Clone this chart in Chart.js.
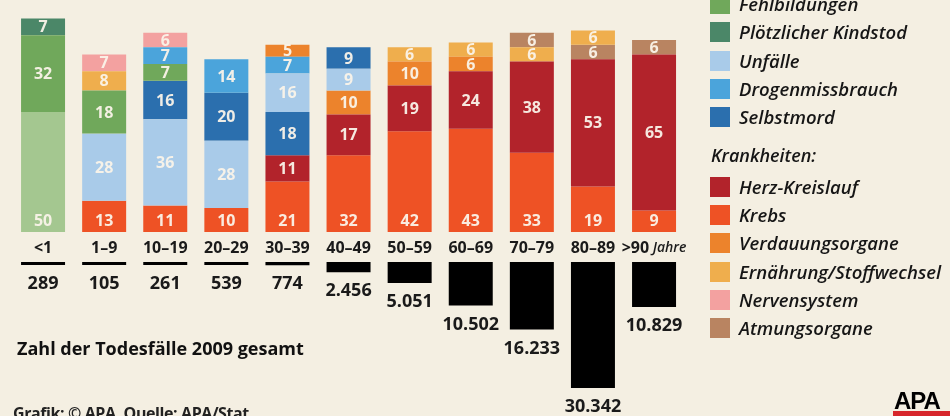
<!DOCTYPE html>
<html><head><meta charset="utf-8">
<script src="https://cdn.jsdelivr.net/npm/chart.js@4.4.0/dist/chart.umd.min.js"></script>
<style>
html,body{margin:0;padding:0;background:#f4efe2;}
#wrap{position:relative;width:950px;height:416px;overflow:hidden;background:#f4efe2;font-family:"Open Sans",sans-serif;color:#1a1a1a;}
#c{position:absolute;left:0;top:0;}
.row{position:absolute;left:710px;height:20px;display:flex;align-items:center;white-space:nowrap;}
.sw{width:20px;height:20px;flex:none;}
.lt{margin-left:9px;font-style:italic;font-weight:600;font-size:18.5px;line-height:20px;color:#161616;}
.hdr{position:absolute;left:711px;font-style:italic;font-weight:600;font-size:18px;line-height:20px;color:#161616;}
#sub{position:absolute;left:17px;top:336px;font-weight:700;font-size:18px;line-height:24px;color:#111;}
#src{position:absolute;left:13px;top:404px;font-weight:700;font-size:16px;line-height:18px;letter-spacing:-0.4px;color:#222;}
#apa{position:absolute;left:894px;top:389px;font-family:"Liberation Sans",Arial,sans-serif;font-weight:700;font-size:24px;line-height:24px;letter-spacing:-1px;color:#000;}
#apabar{position:absolute;left:893px;top:411px;width:57px;height:5px;background:#d7262b;}
</style></head><body>
<div id="wrap">
<canvas id="c" width="950" height="416"></canvas>
<div id="legend"></div>
<div id="sub">Zahl der Todesfälle 2009 gesamt</div>
<div id="src">Grafik: © APA, Quelle: APA/Stat</div>
<div id="apa">APA</div><div id="apabar"></div>
</div>
<script>
// ---- data ----
const categories = ['<1','1–9','10–19','20–29','30–39','40–49','50–59','60–69','70–79','80–89','>90'];
const perinatal     = [50,null,null,null,null,null,null,null,null,null,null];
const fehlbildungen = [32,18,7,null,null,null,null,null,null,null,null];
const kindstod      = [7,null,null,null,null,null,null,null,null,null,null];
const unfaelle      = [null,28,36,28,16,9,null,null,null,null,null];
const drogen        = [null,null,7,14,7,null,null,null,null,null,null];
const selbstmord    = [null,null,16,20,18,9,null,null,null,null,null];
const herz          = [null,null,null,null,11,17,19,24,38,53,65];
const krebs         = [null,13,11,10,21,32,42,43,33,19,9];
const verdauung     = [null,null,null,null,5,10,10,6,null,null,null];
const ernaehrung    = [null,8,null,null,null,null,6,6,6,6,null];
const nerven        = [null,7,6,null,null,null,null,null,null,null,null];
const atmung        = [null,null,null,null,null,null,null,null,6,6,6];
const deaths        = [289,105,261,539,774,2456,5051,10502,16233,30342,10829];

// stacking order (bottom -> top) per age group, as in the graphic
const stackOrder = [
  ['perinatal','fehlbildungen','kindstod'],
  ['krebs','unfaelle','fehlbildungen','ernaehrung','nerven'],
  ['krebs','unfaelle','selbstmord','fehlbildungen','drogen','nerven'],
  ['krebs','unfaelle','selbstmord','drogen'],
  ['krebs','herz','selbstmord','unfaelle','drogen','verdauung'],
  ['krebs','herz','verdauung','unfaelle','selbstmord'],
  ['krebs','herz','verdauung','ernaehrung'],
  ['krebs','herz','verdauung','ernaehrung'],
  ['krebs','herz','ernaehrung','atmung'],
  ['krebs','herz','atmung','ernaehrung'],
  ['krebs','herz','atmung']
];

const series = [
  {key:'perinatal',     label:'Perinatale Ursachen',     data:perinatal,     color:'#a4c790', group:0},
  {key:'fehlbildungen', label:'Fehlbildungen',           data:fehlbildungen, color:'#70a85b', group:1},
  {key:'kindstod',      label:'Plötzlicher Kindstod',    data:kindstod,      color:'#4b8768', group:1},
  {key:'unfaelle',      label:'Unfälle',                 data:unfaelle,      color:'#a9cbe9', group:1},
  {key:'drogen',        label:'Drogenmissbrauch',        data:drogen,        color:'#4ba4db', group:1},
  {key:'selbstmord',    label:'Selbstmord',              data:selbstmord,    color:'#2b6fae', group:1},
  {key:'herz',          label:'Herz-Kreislauf',          data:herz,          color:'#b2232b', group:2},
  {key:'krebs',         label:'Krebs',                   data:krebs,         color:'#ee5225', group:2},
  {key:'verdauung',     label:'Verdauungsorgane',        data:verdauung,     color:'#ec832c', group:2},
  {key:'ernaehrung',    label:'Ernährung/Stoffwechsel',  data:ernaehrung,    color:'#efae4d', group:2},
  {key:'nerven',        label:'Nervensystem',            data:nerven,        color:'#f3a1a0', group:2},
  {key:'atmung',        label:'Atmungsorgane',           data:atmung,        color:'#b98461', group:2}
];

// ---- build floating ranges from values + order ----
const byKey = {}; series.forEach(s => byKey[s.key] = s);
const ranges = {}; series.forEach(s => ranges[s.key] = categories.map(() => null));
stackOrder.forEach((order, i) => {
  let base = 0;
  order.forEach(k => { const v = byKey[k].data[i]; if (v != null) { ranges[k][i] = [base, base + v]; base += v; } });
});

// ---- geometry of the graphic ----
const H = 416, PCT_PX = 2.4, PCT_BASE = 232, DEATH_PX = 0.004153, DEATH_BASE = 262;
const yMin = -(H - PCT_BASE) / PCT_PX, yMax = yMin + H / PCT_PX;
const y2Min = -DEATH_BASE / DEATH_PX, y2Max = y2Min + H / DEATH_PX;

const datasets = series.map(s => ({
  label: s.label, data: ranges[s.key], backgroundColor: s.color, borderWidth: 0,
  yAxisID: 'y', grouped: false, barPercentage: 0.72, categoryPercentage: 1
}));
datasets.push({
  label: 'Zahl der Todesfälle 2009 gesamt', data: deaths, backgroundColor: '#000', borderWidth: 0,
  yAxisID: 'y2', grouped: false, barPercentage: 0.72, categoryPercentage: 1, minBarLength: 3
});
const DEATH_IDX = datasets.length - 1;

const fmt = v => String(v).replace(/\B(?=(\d{3})+(?!\d))/g, '.');

const labelPlugin = {
  id: 'labels',
  afterDatasetsDraw(chart) {
    const ctx = chart.ctx, xs = chart.scales.x, ys = chart.scales.y;
    const zero = ys.getPixelForValue(0);
    ctx.save();
    // segment values
    ctx.font = '700 16px "Open Sans"';
    ctx.fillStyle = 'rgba(250,243,233,0.95)';
    ctx.textAlign = 'center'; ctx.textBaseline = 'middle';
    series.forEach((s, di) => {
      chart.getDatasetMeta(di).data.forEach((bar, j) => {
        const r = chart.data.datasets[di].data[j];
        if (!r) return;
        const v = r[1] - r[0];
        const y = r[0] === 0 ? zero - 12 : (bar.y + bar.base) / 2;
        ctx.fillText(String(v), bar.x, y + 1);
      });
    });
    // category labels
    ctx.fillStyle = '#1a1a1a';
    const cf = '700 16px "Open Sans"', sf = 'italic 600 14px "Open Sans"';
    categories.forEach((c, j) => {
      const x = xs.getPixelForValue(j), y = zero + 16;
      if (j === categories.length - 1) {
        ctx.font = cf; const w1 = ctx.measureText(c).width;
        ctx.font = sf; const suf = ' Jahre', w2 = ctx.measureText(suf).width;
        const start = x - (w1 + w2) / 2;
        ctx.textAlign = 'left';
        ctx.font = cf; ctx.fillText(c, start, y);
        ctx.font = sf; ctx.fillText(suf, start + w1, y);
        ctx.textAlign = 'center';
      } else {
        ctx.font = cf;
        ctx.fillText(c, x, y);
      }
    });
    // death totals
    ctx.font = '700 18px "Open Sans"';
    chart.getDatasetMeta(DEATH_IDX).data.forEach((bar, j) => {
      const bottom = Math.max(bar.y, bar.base);
      ctx.fillText(fmt(deaths[j]), bar.x, bottom + 19);
    });
    ctx.restore();
  }
};

new Chart(document.getElementById('c'), {
  type: 'bar',
  data: { labels: categories, datasets },
  options: {
    responsive: false, animation: false,
    layout: { padding: { left: 12.5, right: 265.4, top: 0, bottom: 0 } },
    scales: {
      x: { display: false, offset: true },
      y: { display: false, min: yMin, max: yMax },
      y2: { display: false, reverse: true, min: y2Min, max: y2Max }
    },
    plugins: { legend: { display: false }, tooltip: { enabled: false } }
  },
  plugins: [labelPlugin]
});

// ---- legend ----
const leg = document.getElementById('legend');
const addRow = (s, cy) => {
  const d = document.createElement('div'); d.className = 'row'; d.style.top = (cy - 10) + 'px';
  d.innerHTML = '<span class="sw" style="background:' + s.color + '"></span><span class="lt">' + s.label + '</span>';
  leg.appendChild(d);
};
series.filter(s => s.group === 1).forEach((s, i) => addRow(s, 4.2 + i * 28.2));
const h = document.createElement('div'); h.className = 'hdr'; h.style.top = (155 - 10) + 'px'; h.textContent = 'Krankheiten:'; leg.appendChild(h);
series.filter(s => s.group === 2).forEach((s, i) => addRow(s, 187 + i * 28.2));
</script>
</body></html>
